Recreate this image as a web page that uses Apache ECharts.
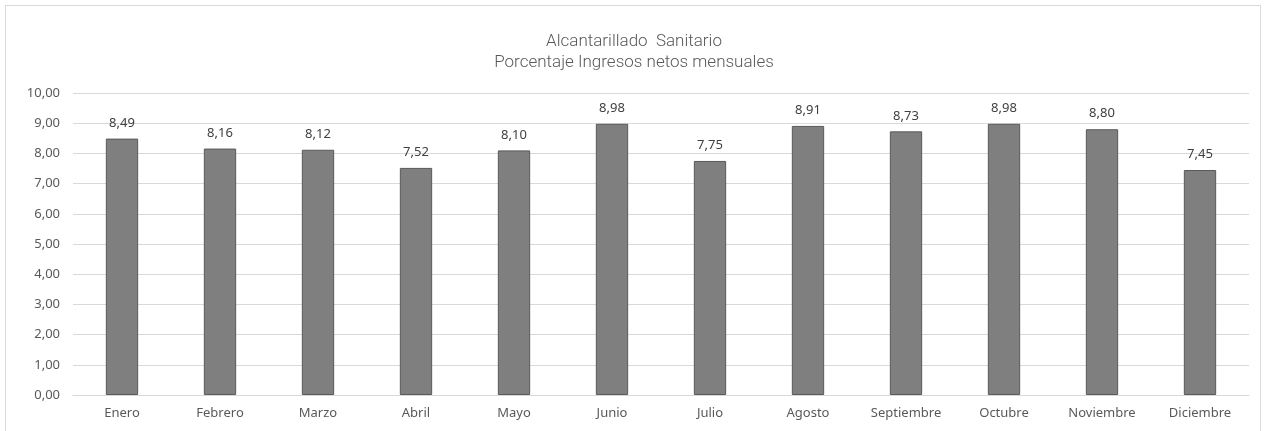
<!DOCTYPE html>
<html><head><meta charset="utf-8">
<script src="https://cdn.jsdelivr.net/npm/echarts@6/dist/echarts.min.js"></script>
<style>html,body{margin:0;padding:0;background:#fff}#c{width:1268px;height:431px}
#frame{position:absolute;left:5px;top:5px;width:1256px;height:440px;border:1px solid #d9d9d9;box-sizing:border-box;pointer-events:none}</style>
</head><body><div id="c"></div><div id="frame"></div>
<script>
const categories = ['Enero','Febrero','Marzo','Abril','Mayo','Junio','Julio','Agosto','Septiembre','Octubre','Noviembre','Diciembre'];
const values = [8.49,8.16,8.12,7.52,8.10,8.98,7.75,8.91,8.73,8.98,8.80,7.45];
const yTicks = {min:0,max:10,interval:1};
const fmt = v => v.toFixed(2).replace('.', ',');
const chart = echarts.init(document.getElementById('c'));
chart.setOption({
  animation:false,
  title:{text:'Alcantarillado  Sanitario\nPorcentaje Ingresos netos mensuales',left:'center',top:26,
    textStyle:{fontFamily:'Roboto',fontSize:17,fontWeight:300,color:'#595959',lineHeight:21}},
  grid:{left:73,right:19,top:93,bottom:36},
  xAxis:{type:'category',data:categories,
    axisLine:{lineStyle:{color:'#d9d9d9'}},axisTick:{show:false},
    axisLabel:{color:'#595959',fontFamily:'Noto Sans',fontSize:13,margin:12}},
  yAxis:{type:'value',min:yTicks.min,max:yTicks.max,interval:yTicks.interval,
    axisLabel:{color:'#595959',fontFamily:'Noto Sans',fontSize:13,margin:13,formatter:fmt},
    splitLine:{lineStyle:{color:'#d9d9d9'}},axisLine:{show:false}},
  series:[{type:'bar',data:values,barWidth:'33%',
    itemStyle:{color:'#7f7f7f',borderColor:'#595959',borderWidth:1},
    label:{show:true,position:'top',distance:9,color:'#404040',fontFamily:'Noto Sans',fontSize:13,formatter:p=>fmt(p.value)}}]
});
</script></body></html>
